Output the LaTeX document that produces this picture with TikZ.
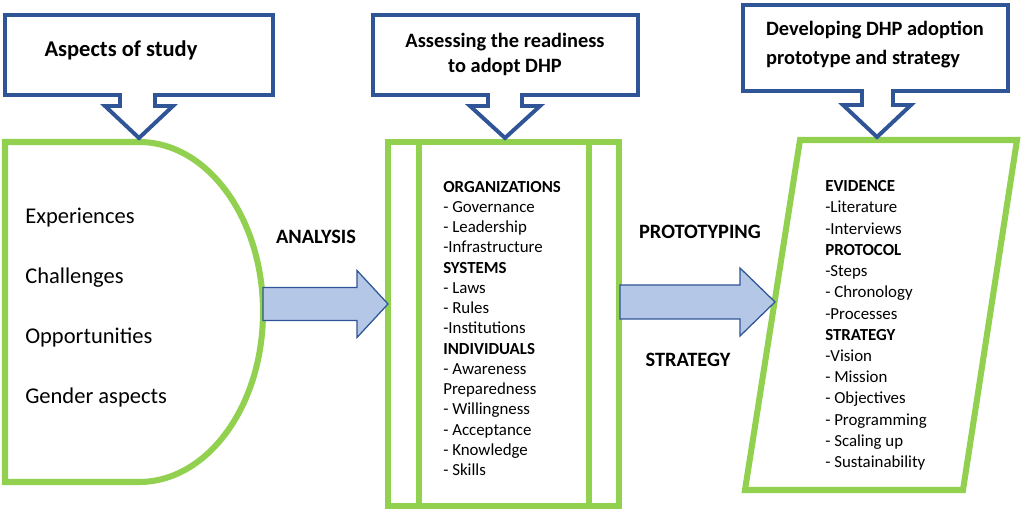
\documentclass[tikz,border=0pt]{standalone}
\usepackage{fontspec}
\setmainfont{Carlito}
\usepackage{tikz}
\usetikzlibrary{shapes,arrows,calc}
\definecolor{leaf}{RGB}{146,208,80}
\definecolor{navy}{RGB}{47,85,151}
\definecolor{pale}{RGB}{180,199,231}
\tikzstyle{bubble} = [draw=navy, line width=2.8pt, fill=white]
\tikzstyle{greenbox} = [draw=leaf, line width=4.3pt, fill=white]
\tikzstyle{blockarrow} = [draw=navy, line width=0.9pt, fill=pale]
\tikzstyle{title} = [font=\bfseries\fontsize{14.5}{17.8}\selectfont, inner sep=0pt]
\tikzstyle{aspect} = [font=\fontsize{16}{19}\selectfont, anchor=west, inner sep=0pt]
\tikzstyle{bullets} = [font=\fontsize{12}{14.4}\selectfont, align=left, anchor=west, inner sep=0pt]

\begin{document}
\begin{tikzpicture}[x=0.025cm, y=0.025cm]
        \useasboundingbox (0,0) rectangle (1022,511);
        \draw[greenbox] (5,369) -- (139,369) arc[start angle=90, end angle=-90, x radius=124, y radius=170] -- (5,29) -- cycle;
        \draw[greenbox] (388,5) rectangle (619,369);
        \draw[greenbox] (419,5) -- (419,369) (589,5) -- (589,369);
        \draw[greenbox] (745,21) -- (963,21) -- (1017,371) -- (800,371) -- cycle;
        \draw[bubble] (5,496) -- (273,496) -- (273,416) -- (155,416) -- (155,405) -- (173,405) -- (139,373) -- (105,405) -- (120,405) -- (120,416) -- (5,416) -- cycle;
        \draw[bubble] (373,496) -- (638,496) -- (638,416) -- (522,416) -- (522,405) -- (540,405) -- (505,373) -- (470,405) -- (488,405) -- (488,416) -- (373,416) -- cycle;
        \draw[bubble] (743,506) -- (1008,506) -- (1008,420) -- (893,420) -- (893,406) -- (911,406) -- (877,374) -- (843,406) -- (862,406) -- (862,420) -- (743,420) -- cycle;
        \draw[blockarrow] (263,223.5) -- (357,223.5) -- (357,240.5) -- (388,207) -- (357,173.5) -- (357,190.5) -- (263,190.5) -- cycle;
        \draw[blockarrow] (620,226) -- (740,226) -- (740,243) -- (775,209) -- (740,175) -- (740,192) -- (620,192) -- cycle;
        \node[title, font=\bfseries\fontsize{16}{19}\selectfont] (study) at (121,461) {Aspects of study};
        \node[title, align=center] (ready) at (505,456.5) {Assessing the readiness\\to adopt DHP};
        \node[title, align=left, font=\bfseries\fontsize{14.5}{20.6}\selectfont] (develop) at (875,466.5) {Developing DHP adoption\\prototype and strategy};
        \node[title] (analysis) at (316,274) {ANALYSIS};
        \node[title] (prototyping) at (700,279) {PROTOTYPING};
        \node[title] (strategy) at (688,151) {STRATEGY};
        \foreach \txt [count=\i] in {Experiences, Challenges, Opportunities, Gender aspects}
            \node[aspect] (aspect\i) at (25,353-60*\i) {\txt};
        \node[bullets] (readiness) at (443,182.5) {\textbf{ORGANIZATIONS}\\- Governance\\- Leadership\\-Infrastructure\\\textbf{SYSTEMS}\\- Laws\\- Rules\\-Institutions\\\textbf{INDIVIDUALS}\\- Awareness\\Preparedness\\- Willingness\\- Acceptance\\- Knowledge\\- Skills};
        \node[bullets, font=\fontsize{12}{15.1}\selectfont] (prototype) at (825,185.5) {\textbf{EVIDENCE}\\-Literature\\-Interviews\\\textbf{PROTOCOL}\\-Steps\\- Chronology\\-Processes\\\textbf{STRATEGY}\\-Vision\\- Mission\\- Objectives\\- Programming\\- Scaling up\\- Sustainability};
    \end{tikzpicture}
\end{document}
